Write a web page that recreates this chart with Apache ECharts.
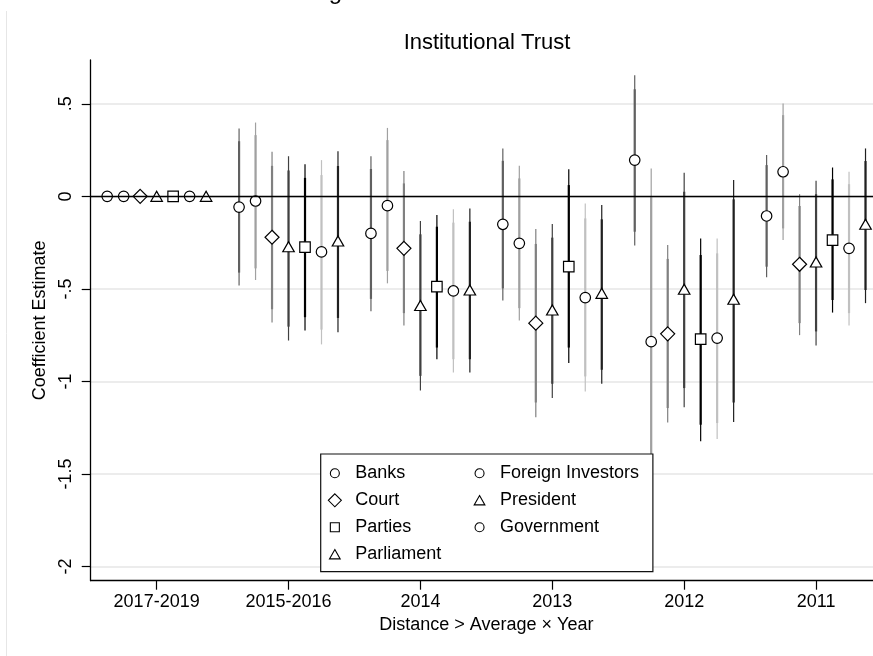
<!DOCTYPE html>
<html>
<head>
<meta charset="utf-8">
<script src="https://cdn.jsdelivr.net/npm/echarts@6/dist/echarts.min.js"></script>
<style>
  html, body { margin: 0; padding: 0; background: #fff; }
  #chart { width: 873px; height: 656px; }
</style>
</head>
<body>
<div id="chart"></div>
<script>
// Year groups on the x axis
const years = ['2017-2019', '2015-2016', '2014', '2013', '2012', '2011'];

// Institutions in plotting order (within each year group, left to right)
const institutions = ['Banks', 'Foreign Investors', 'Court', 'President', 'Parties', 'Government', 'Parliament'];

// One row per year group: [estimate, lo95, lo90, hi90, hi95]; the first group is the reference (0)
const banks = [
  [0, null, null, null, null],
  [-0.058, -0.482, -0.412, 0.298, 0.367],
  [-0.200, -0.621, -0.554, 0.148, 0.217],
  [-0.151, -0.563, -0.497, 0.192, 0.259],
  [0.196, -0.266, -0.191, 0.579, 0.655],
  [-0.106, -0.437, -0.380, 0.169, 0.223]
];
const foreignInvestors = [
  [0, null, null, null, null],
  [-0.025, -0.452, -0.389, 0.331, 0.399],
  [-0.050, -0.470, -0.403, 0.304, 0.370],
  [-0.254, -0.671, -0.604, 0.097, 0.165],
  [-0.785, -1.720, -1.570, 0.000, 0.151],
  [0.133, -0.236, -0.173, 0.439, 0.502]
];
const court = [
  [0, null, null, null, null],
  [-0.221, -0.682, -0.610, 0.165, 0.241],
  [-0.281, -0.698, -0.631, 0.070, 0.137],
  [-0.685, -1.193, -1.114, -0.257, -0.176],
  [-0.743, -1.222, -1.144, -0.338, -0.263],
  [-0.367, -0.750, -0.685, -0.052, 0.012]
];
const president = [
  [0, null, null, null, null],
  [-0.272, -0.779, -0.704, 0.140, 0.217],
  [-0.590, -1.049, -0.970, -0.205, -0.133],
  [-0.614, -1.090, -1.013, -0.223, -0.149],
  [-0.502, -1.139, -1.036, 0.025, 0.127],
  [-0.355, -0.806, -0.730, 0.012, 0.084]
];
const parties = [
  [0, null, null, null, null],
  [-0.274, -0.725, -0.653, 0.100, 0.173],
  [-0.488, -0.880, -0.817, -0.164, -0.101],
  [-0.380, -0.901, -0.817, 0.061, 0.146],
  [-0.772, -1.324, -1.234, -0.317, -0.227],
  [-0.236, -0.628, -0.560, 0.092, 0.156]
];
const government = [
  [0, null, null, null, null],
  [-0.300, -0.800, -0.720, 0.115, 0.196],
  [-0.511, -0.952, -0.880, -0.142, -0.070],
  [-0.547, -1.054, -0.973, -0.119, -0.038],
  [-0.766, -1.311, -1.225, -0.308, -0.227],
  [-0.281, -0.698, -0.631, 0.066, 0.133]
];
const parliament = [
  [0, null, null, null, null],
  [-0.241, -0.734, -0.657, 0.164, 0.244],
  [-0.506, -0.952, -0.880, -0.137, -0.065],
  [-0.524, -1.013, -0.937, -0.124, -0.047],
  [-0.556, -1.220, -1.114, -0.016, 0.088],
  [-0.151, -0.577, -0.506, 0.191, 0.259]
];

// Y axis ticks and their printed labels
const yTicks = [0.5, 0, -0.5, -1, -1.5, -2];
const yTickLabels = ['.5', '0', '-.5', '-1', '-1.5', '-2'];

const seriesRows = [banks, foreignInvestors, court, president, parties, government, parliament];

// ---- styling ----
const FONT = "'Liberation Sans', Arial, Helvetica, sans-serif";
const ciColors = ['#606060', '#a0a0a0', '#808080', '#404040', '#000000', '#c0c0c0', '#202020'];
const markers = [
  { symbol: 'circle', size: 10.5 },
  { symbol: 'circle', size: 10.5 },
  { symbol: 'diamond', size: [14, 14] },
  { symbol: 'triangle', size: [11.5, 10] },
  { symbol: 'rect', size: 10.5 },
  { symbol: 'circle', size: 10.5 },
  { symbol: 'triangle', size: [11.5, 10] }
];
// legend icons drawn in a 29x13 box (first two moves fix the box)
const legendIcons = {
  circle: 'path://M0,0M29,13M18.1,6.5A4.5,4.5,0,1,1,9.1,6.5A4.5,4.5,0,1,1,18.1,6.5Z',
  diamond: 'path://M0,0M29,13M13.6,0L20.1,6.5L13.6,13L7.1,6.5Z',
  rect: 'path://M0,0M29,13M9.1,2L18.1,2L18.1,11L9.1,11Z',
  triangle: 'path://M0,0M29,13M13.6,1.8L18.95,11.1L8.25,11.1Z'
};
const dodge = 0.125; // spacing between institutions inside a year group

function xPos(groupIdx, seriesIdx) {
  return groupIdx + 1 + (seriesIdx - 3) * dodge;
}

function ciRenderer(color) {
  return function (params, api) {
    const x = api.value(0);
    const a95 = api.coord([x, api.value(1)]);
    const a90 = api.coord([x, api.value(2)]);
    const b90 = api.coord([x, api.value(3)]);
    const b95 = api.coord([x, api.value(4)]);
    return {
      type: 'group',
      children: [
        { type: 'line', shape: { x1: a95[0], y1: a95[1], x2: b95[0], y2: b95[1] },
          style: { stroke: color, lineWidth: 1.2 } },
        { type: 'line', shape: { x1: a90[0], y1: a90[1], x2: b90[0], y2: b90[1] },
          style: { stroke: color, lineWidth: 2.2 } }
      ]
    };
  };
}

const series = [];
institutions.forEach(function (name, si) {
  const rows = seriesRows[si];
  const ciData = [];
  const ptData = [];
  rows.forEach(function (r, gi) {
    const x = xPos(gi, si);
    // the reference-year Government marker is left unfilled, so the zero line shows through it
    if (gi === 0 && name === 'Government') {
      ptData.push({ value: [x, r[0]], itemStyle: { color: 'rgba(255,255,255,0)' } });
    } else {
      ptData.push([x, r[0]]);
    }
    if (r[1] !== null) ciData.push([x, r[1], r[2], r[3], r[4]]);
  });
  const ci = {
    name: name + ' CI',
    type: 'custom',
    xAxisIndex: 1,
    yAxisIndex: 0,
    renderItem: ciRenderer(ciColors[si]),
    encode: { x: 0, y: [1, 2, 3, 4] },
    data: ciData,
    silent: true,
    z: 2
  };
  if (si === 0) {
    ci.markLine = {
      silent: true,
      symbol: ['none', 'none'],
      label: { show: false },
      lineStyle: { color: '#000', width: 1.3, type: 'solid' },
      data: [{ yAxis: 0 }]
    };
  }
  series.push(ci);
  series.push({
    name: name,
    type: 'scatter',
    xAxisIndex: 1,
    yAxisIndex: 0,
    symbol: markers[si].symbol,
    symbolSize: markers[si].size,
    itemStyle: { color: '#ffffff', borderColor: '#000000', borderWidth: 1.2, opacity: 1 },
    emphasis: { disabled: true },
    silent: true,
    data: ptData,
    z: 3
  });
});

function legendData(names) {
  return names.map(function (n) {
    const si = institutions.indexOf(n);
    return { name: n, icon: legendIcons[markers[si].symbol] };
  });
}

const legendCommon = {
  orient: 'vertical',
  selectedMode: false,
  itemWidth: 29,
  itemHeight: 13,
  itemGap: 9,
  itemStyle: { color: '#ffffff', borderColor: '#000000', borderWidth: 1.1 },
  textStyle: { color: '#000', fontSize: 18, fontFamily: FONT }
};

const option = {
  animation: false,
  backgroundColor: '#ffffff',
  textStyle: { fontFamily: FONT },
  grid: { left: 90.7, right: -9, top: 60, bottom: 75.3, outerBoundsMode: 'none', containLabel: false },
  xAxis: [
    {
      type: 'category',
      data: years,
      boundaryGap: true,
      position: 'bottom',
      name: 'Distance > Average × Year',
      nameLocation: 'middle',
      nameGap: 31,
      nameTextStyle: { color: '#000', fontSize: 18, fontFamily: FONT },
      axisLine: { show: true, onZero: false, lineStyle: { color: '#000', width: 1.3 } },
      axisTick: { show: true, alignWithLabel: true, length: 9, lineStyle: { color: '#000', width: 1.2 } },
      axisLabel: { show: true, interval: 0, margin: 12, color: '#000', fontSize: 18, fontFamily: FONT },
      splitLine: { show: false }
    },
    {
      type: 'value',
      min: 0.5,
      max: 6.5,
      show: false,
      position: 'top'
    }
  ],
  yAxis: [{
    type: 'value',
    min: -2.077,
    max: 0.737,
    name: 'Coefficient Estimate',
    nameLocation: 'middle',
    nameGap: 39,
    nameRotate: 90,
    nameTextStyle: { color: '#000', fontSize: 18, fontFamily: FONT },
    axisLine: { show: true, onZero: false, lineStyle: { color: '#000', width: 1.3 } },
    axisTick: { show: true, length: 9, customValues: yTicks, lineStyle: { color: '#000', width: 1.2 } },
    axisLabel: {
      show: true,
      rotate: 90,
      margin: 16,
      color: '#000',
      fontSize: 18,
      fontFamily: FONT,
      customValues: yTicks,
      formatter: function (v) {
        const i = yTicks.findIndex(function (t) { return Math.abs(t - v) < 1e-9; });
        return i >= 0 ? yTickLabels[i] : '';
      }
    },
    splitLine: { show: true, lineStyle: { color: '#e6e6e6', width: 1.6 } }
  }],
  legend: [
    Object.assign({}, legendCommon, {
      data: legendData(['Banks', 'Court', 'Parties', 'Parliament']),
      left: 320.7,
      top: 454,
      padding: [10.3, 211.6, 8.4, 0],
      backgroundColor: '#ffffff',
      borderColor: '#111111',
      borderWidth: 1.2,
      borderRadius: 0,
      z: 6
    }),
    Object.assign({}, legendCommon, {
      data: legendData(['Foreign Investors', 'President', 'Government']),
      left: 465.4,
      top: 454,
      padding: [10.3, 0, 0, 0],
      z: 7
    })
  ],
  graphic: [
    { type: 'line', silent: true, z: 0,
      shape: { x1: 6.5, y1: 11, x2: 6.5, y2: 656 },
      style: { stroke: '#e6e6e6', lineWidth: 1 } },
    { type: 'text', silent: true, x: 487, y: 42.5,
      style: { text: 'Institutional Trust', fill: '#000', font: '22px ' + FONT, align: 'center', verticalAlign: 'middle' } },
    { type: 'text', silent: true, x: 335.5, y: -8,
      style: { text: 'g', fill: '#000', font: '24px ' + FONT, align: 'center', verticalAlign: 'middle' } }
  ],
  series: series
};

const chart = echarts.init(document.getElementById('chart'), null, { renderer: 'canvas' });
chart.setOption(option);
</script>
</body>
</html>
